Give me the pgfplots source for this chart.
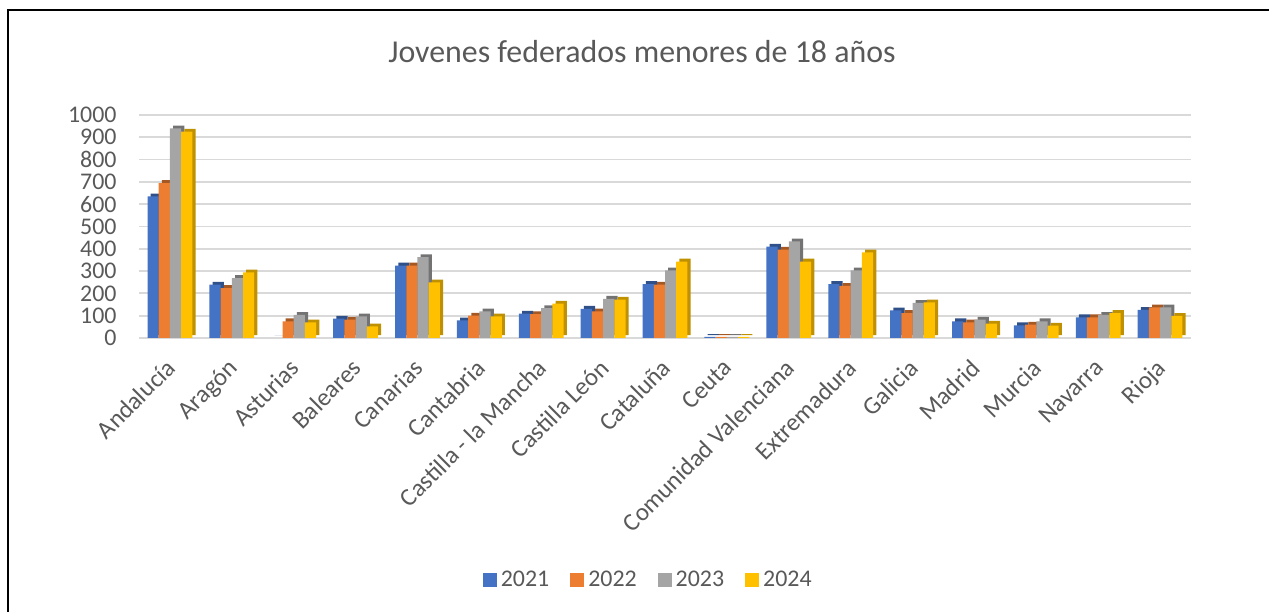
\documentclass[border=0pt]{standalone}
\usepackage{pgfplots}
\pgfplotsset{compat=1.18}
\usepackage{pgfplotstable}
\usepackage{fontspec}
\setmainfont{Carlito}
\definecolor{c21}{HTML}{4472C4}
\definecolor{c22}{HTML}{ED7D31}
\definecolor{c23}{HTML}{A5A5A5}
\definecolor{c24}{HTML}{FFC000}
\definecolor{txt}{HTML}{595959}
\definecolor{grid}{HTML}{D9D9D9}
\pgfplotstableread{
x a b c d
0 635 695 940 925
1 239 224 269 294
2 0 75 104 70
3 87 82 97 52
4 325 325 363 249
5 79 100 119 97
6 109 107 134 154
7 131 119 176 172
8 242 239 303 343
9 5 5 5 5
10 410 396 433 343
11 242 234 303 384
12 124 112 157 160
13 75 70 82 64
14 57 60 75 55
15 93 93 104 112
16 126 137 137 99
}\data
\begin{document}
\begin{tikzpicture}
\useasboundingbox (0,0) rectangle (634.5bp,306bp);
\draw[line width=1.2bp] (4bp,0) -- (4bp,301bp) -- (634.5bp,301bp);
\node[font=\fontsize{16}{19}\selectfont, text=txt] at (321bp,280bp) {Jovenes federados menores de 18 años};
\begin{axis}[
  at={(69.5bp,137bp)}, anchor=south west,
  width=526bp, height=111.5bp, scale only axis,
  xmin=-0.5, xmax=16.5, ymin=0, ymax=1000,
  ybar, bar width=5.6bp,
  axis line style={draw=none},
  major tick length=0pt,
  ytick={0,100,...,1000},
  ymajorgrids, major grid style={draw=grid, line width=0.9bp},
  xtick=data,
  xticklabels={Andalucía,Aragón,Asturias,Baleares,Canarias,Cantabria,Castilla - la Mancha,Castilla León,Cataluña,Ceuta,Comunidad Valenciana,Extremadura,Galicia,Madrid,Murcia,Navarra,Rioja},
  /pgf/number format/assume math mode=true,
  /pgf/number format/1000 sep={},
  yticklabel style={font=\fontsize{12}{14}\selectfont, text=txt, anchor=east, inner sep=0pt, xshift=-11bp},
  xticklabel style={font=\fontsize{12.5}{14}\selectfont, text=txt, xshift=-2.5bp, yshift=-9.5bp, rotate=45, anchor=north east, inner sep=0pt},
  legend columns=4,
  legend style={draw=none, at={(0.485,-1.085)}, anchor=center, font=\fontsize{12}{14}\selectfont, text=txt,
    /tikz/every even column/.append style={column sep=8.5bp}},
  legend image code/.code={\fill[#1] (0bp,-3.5bp) rectangle (7bp,3.5bp);},
]
\addplot[draw=none, fill=c21!70!black, bar shift=-8.4bp, xshift=1.6bp, yshift=1.4bp, forget plot] table[x=x,y=a]{\data};
\addplot[draw=none, fill=c21, bar shift=-8.4bp] table[x=x,y=a]{\data};
\addplot[draw=none, fill=c22!70!black, bar shift=-2.8bp, xshift=1.6bp, yshift=1.4bp, forget plot] table[x=x,y=b]{\data};
\addplot[draw=none, fill=c22, bar shift=-2.8bp] table[x=x,y=b]{\data};
\addplot[draw=none, fill=c23!70!black, bar shift=2.8bp, xshift=1.6bp, yshift=1.4bp, forget plot] table[x=x,y=c]{\data};
\addplot[draw=none, fill=c23, bar shift=2.8bp] table[x=x,y=c]{\data};
\addplot[draw=none, fill=c24!75!black, bar shift=8.4bp, xshift=1.6bp, yshift=1.4bp, forget plot] table[x=x,y=d]{\data};
\addplot[draw=none, fill=c24, bar shift=8.4bp] table[x=x,y=d]{\data};
\legend{2021,2022,2023,2024}
\end{axis}
\end{tikzpicture}
\end{document}
